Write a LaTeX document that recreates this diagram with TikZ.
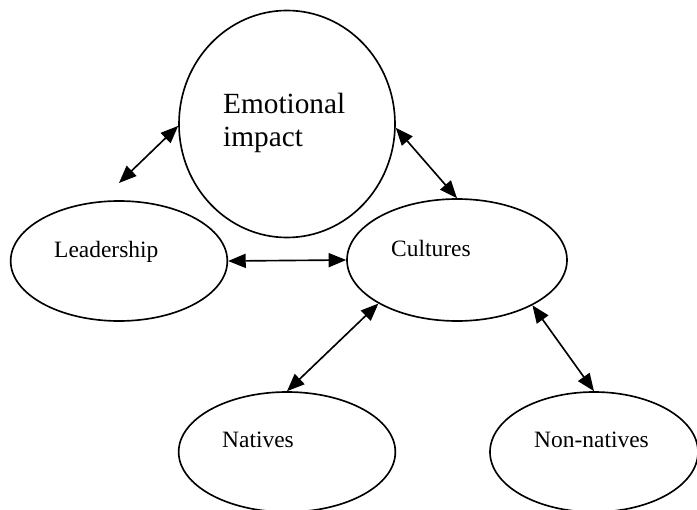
\documentclass[tikz,border=0pt]{standalone}
\usepackage{fontspec}
\setmainfont{Liberation Serif}
\usepackage{tikz}
\usetikzlibrary{positioning}
\usetikzlibrary{shapes.geometric, arrows.meta}
\tikzstyle{dblarrow} = [line width=1.4pt, {Triangle[length=15pt,width=12pt]}-{Triangle[length=15pt,width=12pt]}]
\tikzstyle{oval} = [draw, ellipse, line width=1.4pt, minimum width=6.5cm, minimum height=3.6cm, inner sep=0pt]
\tikzstyle{word} = [font=\fontsize{20}{24}\selectfont, inner sep=0pt, anchor=base west]

\begin{document}
\begin{tikzpicture}[x=0.03cm, y=-0.03cm]
  \useasboundingbox (0,0) rectangle (697,510);

  % Ovals
  \node[oval, minimum width=6.48cm, minimum height=6.81cm] (Emotion) at (287,124) {};
  \node[oval] (Leadership) at (119,261) {};
  \node[oval, minimum width=6.6cm, minimum height=3.66cm] (Cultures) at (457,260) {};
  \node[oval] (Natives) at (287,452) {};
  \node[oval, minimum width=6.24cm] (NonNatives) at (594,452) {};
  \coordinate (LeadTop) at (119,183);

  % Texts
  \node[word, font=\fontsize{25}{29}\selectfont, align=left] (EmotionText) at (223,147) {Emotional\\impact};
  \node[word] (LeadershipText) at (54,257) {Leadership};
  \node[word] (CulturesText) at (391,256) {Cultures};
  \node[word] (NativesText) at (222,447) {Natives};
  \node[word] (NonNativesText) at (534,447) {Non-natives};

  % Links
  \draw[dblarrow] (Emotion.181) -- (LeadTop);
  \draw[dblarrow] (Emotion.-2) -- (Cultures.north);
  \draw[dblarrow] (Leadership.east) -- (Cultures.west);
  \draw[dblarrow] (Cultures.209) -- (Natives.north);
  \draw[dblarrow] (Cultures.-31) -- (NonNatives.north);
\end{tikzpicture}
\end{document}
